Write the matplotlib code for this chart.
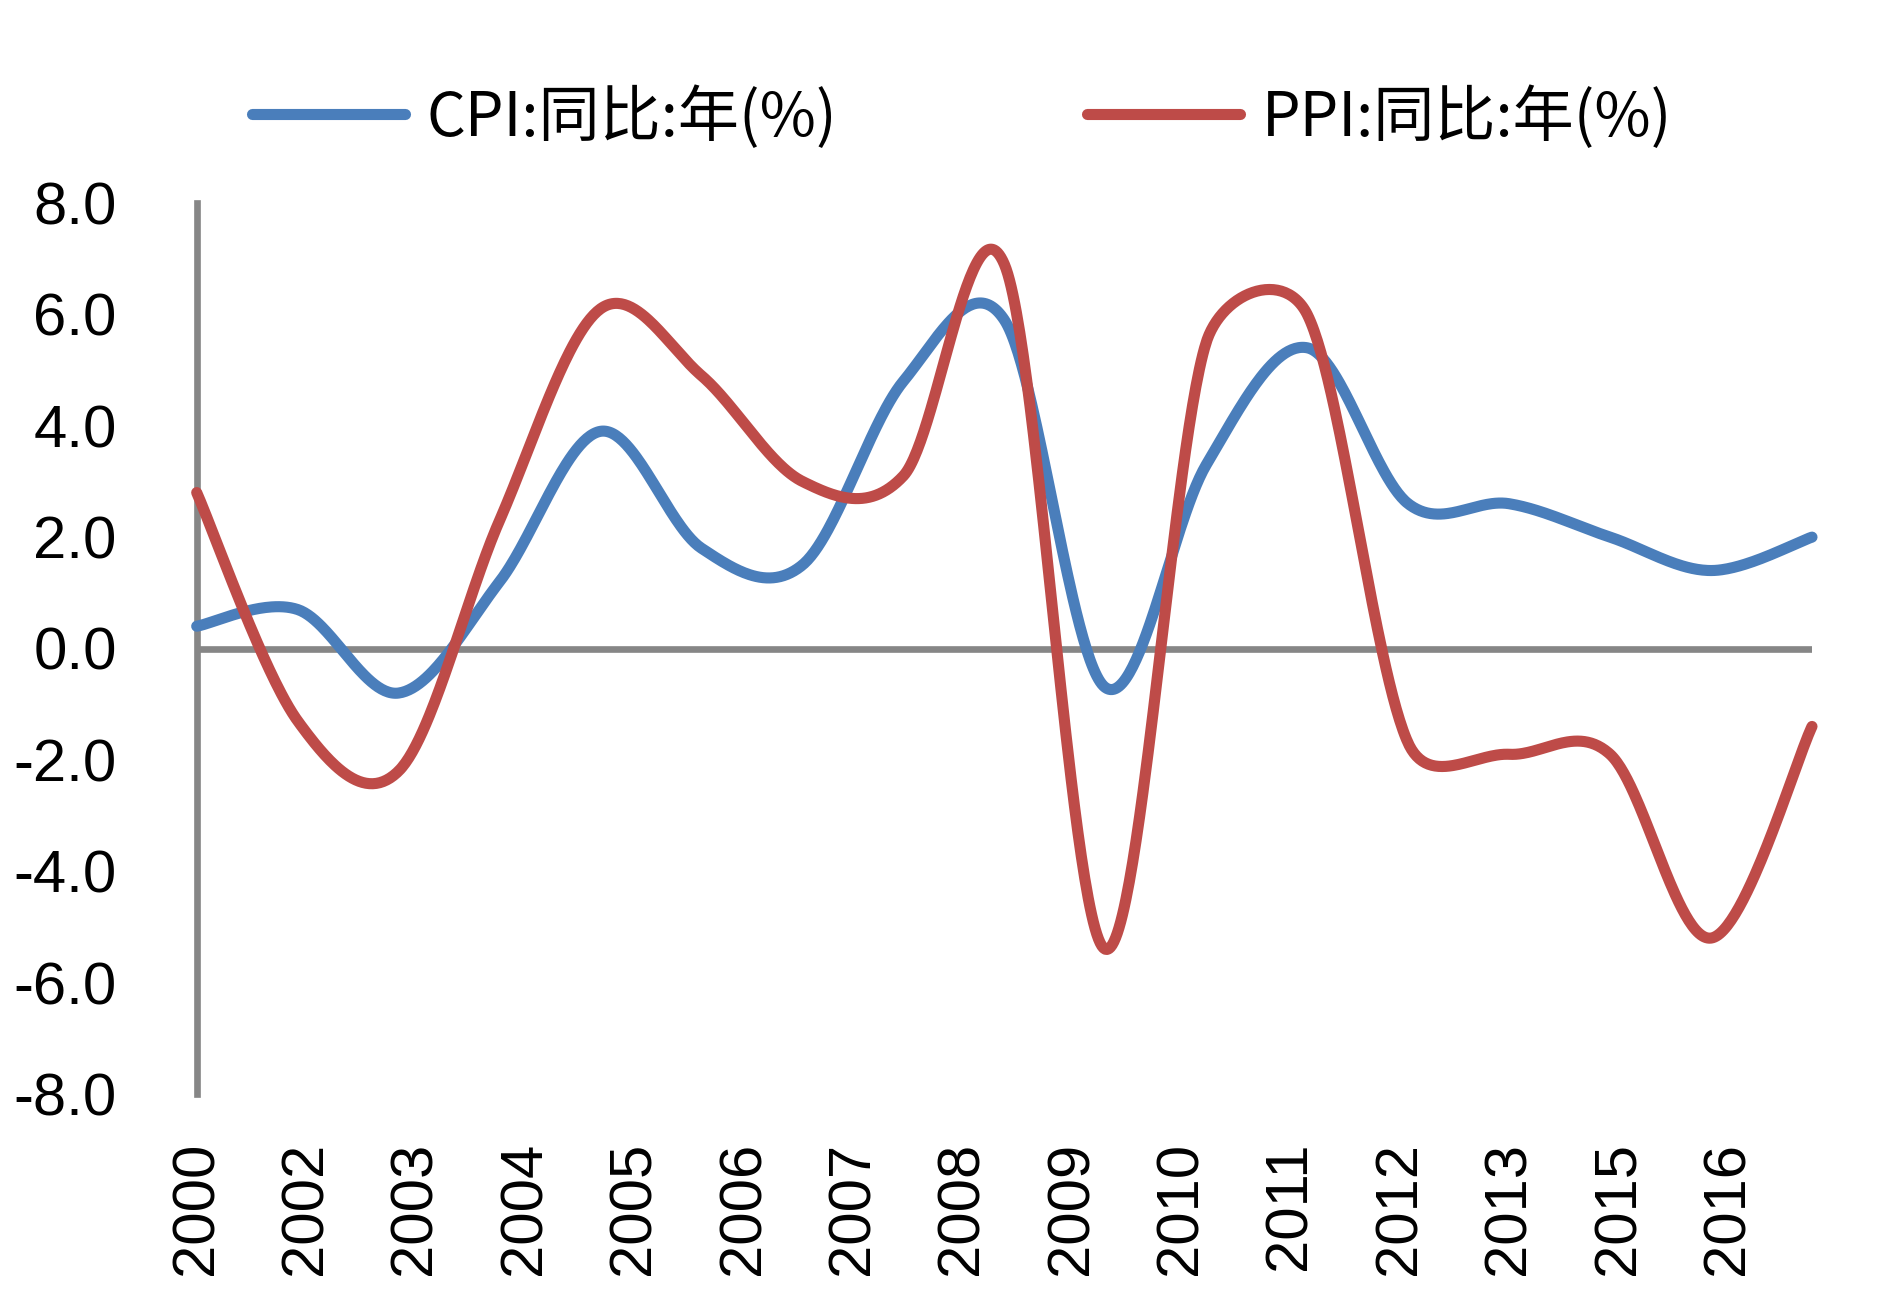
import numpy as np
import matplotlib
matplotlib.use("Agg")
import matplotlib.pyplot as plt
from matplotlib.lines import Line2D

# ---------------- data ----------------
years = [2000, 2001, 2002, 2003, 2004, 2005, 2006, 2007, 2008,
         2009, 2010, 2011, 2012, 2013, 2014, 2015, 2016]
cpi = [0.4, 0.7, -0.8, 1.2, 3.9, 1.8, 1.5, 4.8, 5.9,
       -0.7, 3.3, 5.4, 2.6, 2.6, 2.0, 1.4, 2.0]
ppi = [2.8, -1.3, -2.2, 2.3, 6.1, 4.9, 3.0, 3.1, 6.9,
       -5.4, 5.5, 6.0, -1.7, -1.9, -1.9, -5.2, -1.4]
tick_labels = ["2000", "2002", "2003", "2004", "2005", "2006", "2007", "2008",
               "2009", "2010", "2011", "2012", "2013", "2015", "2016"]
y_ticks = [8, 6, 4, 2, 0, -2, -4, -6, -8]
series_names = ["CPI:同比:年(%)", "PPI:同比:年(%)"]
colors = ["#4a7ebb", "#be4b48"]
axis_gray = "#868686"

W, H = 1889, 1299
left_px, right_px, top_px, bot_px = 196.7, 1812.0, 203.0, 1094.0
PX_X = (right_px - left_px) / (years[-1] - years[0])   # pixels per year
PX_Y = (bot_px - top_px) / 16.0                        # pixels per unit


def smooth(xs, ys, n=60):
    """Excel-like smoothed line: Catmull-Rom Bezier in screen space, with
    control arms limited to half of the segment length."""
    P = np.column_stack([np.asarray(xs, float) * PX_X, np.asarray(ys, float) * PX_Y])
    m = len(P)
    out = []
    t = np.linspace(0, 1, n)[:, None]
    for i in range(m - 1):
        p0 = P[max(i - 1, 0)]
        p1 = P[i]
        p2 = P[i + 1]
        p3 = P[min(i + 2, m - 1)]
        d12 = np.linalg.norm(p2 - p1)
        a1 = (p2 - p0) / 6.0
        a2 = (p3 - p1) / 6.0
        n1, n2 = np.linalg.norm(a1), np.linalg.norm(a2)
        if n1 > d12 / 2:
            a1 = a1 * (d12 / 2) / n1
        if n2 > d12 / 2:
            a2 = a2 * (d12 / 2) / n2
        c1 = p1 + a1
        c2 = p2 - a2
        seg = ((1 - t) ** 3) * p1 + 3 * ((1 - t) ** 2) * t * c1 \
            + 3 * (1 - t) * t ** 2 * c2 + t ** 3 * p2
        if i > 0:
            seg = seg[1:]
        out.append(seg)
    out = np.vstack(out)
    return out[:, 0] / PX_X, out[:, 1] / PX_Y


fig = plt.figure(figsize=(W / 100, H / 100), dpi=100)
ax = fig.add_axes([left_px / W, 1 - bot_px / H,
                   (right_px - left_px) / W, (bot_px - top_px) / H])

lw = 8.0
for vals, c, name in zip([cpi, ppi], colors, series_names):
    sx, sy = smooth(years, vals)
    ax.plot(sx, sy, color=c, lw=lw, solid_capstyle="round",
            solid_joinstyle="round", clip_on=False, zorder=3, label=name)

ax.set_xlim(years[0], years[-1])
ax.set_ylim(-8, 8)

# zero line (category axis crossing at 0)
ax.axhline(0, color=axis_gray, lw=4.8, zorder=2, solid_capstyle="butt")

for s in ["top", "right", "bottom"]:
    ax.spines[s].set_visible(False)
ax.spines["left"].set_color(axis_gray)
ax.spines["left"].set_linewidth(4.8)
ax.spines["left"].set_zorder(2.5)

tick_font = {"family": ["Liberation Sans", "DejaVu Sans"], "size": 43}
ax.set_yticks(y_ticks)
ax.set_yticklabels([f"{v:.1f}" for v in y_ticks], fontdict=tick_font)
ax.tick_params(axis="y", length=0, pad=57.6)

xt = [years[0] + i * 13 / 12 for i in range(len(tick_labels))]
ax.set_xticks(xt)
ax.set_xticklabels(tick_labels, fontdict=tick_font, rotation=90, va="top", ha="center")
ax.tick_params(axis="x", length=0, pad=34.5)

handles = [Line2D([], [], color=c, lw=lw, solid_capstyle="round") for c in colors]
fs_leg = 44
leg = fig.legend(handles, series_names, ncol=2, loc="center left",
                 bbox_to_anchor=(252 / W, 1 - 118 / H), frameon=False,
                 borderpad=0, borderaxespad=0, handlelength=2.5,
                 handletextpad=0.35, columnspacing=4.1,
                 prop={"family": ["Noto Sans CJK SC", "DejaVu Sans"], "size": fs_leg})

fig.savefig("out.png", dpi=100, facecolor="white")
